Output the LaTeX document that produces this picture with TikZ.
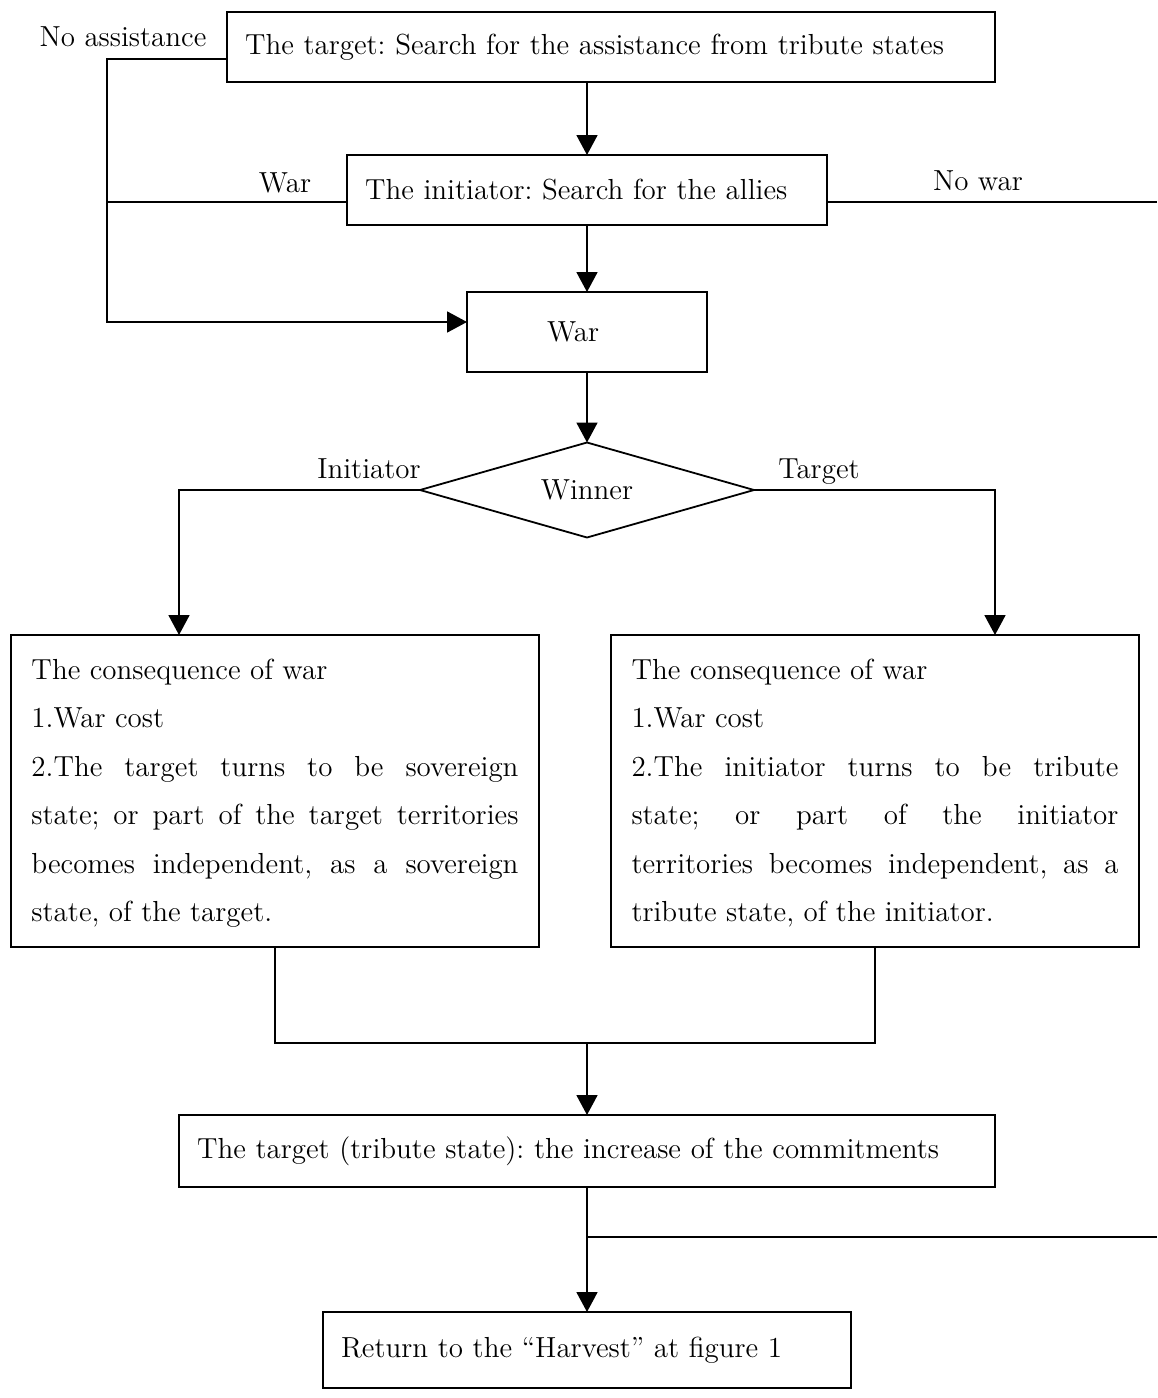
\documentclass[tikz,border=0pt]{standalone}
\usepackage{fontspec}
\usetikzlibrary{arrows.meta,positioning,calc,shapes.geometric}
\frenchspacing

\begin{document}
\begin{tikzpicture}[
    x=0.5pt, y=-0.5pt,
    box/.style={
        draw,
        line width=0.9pt,
        outer sep=0pt,
        align=left,
        inner xsep=9pt,
        inner ysep=0pt,
        font=\fontsize{14.5}{24.25}\selectfont
    },
    bigbox/.style={
        box,
        align=justify,
        inner xsep=10.25pt,
        text width=243.5pt,
        minimum height=156pt,
        anchor=north west
    },
    tag/.style={
        anchor=base,
        inner sep=0pt,
        font=\fontsize{14.5}{24.25}\selectfont
    },
    link/.style={line width=0.9pt},
    >={Triangle[length=10pt,width=10.5pt]}
]

\useasboundingbox (0,0) rectangle (1157,1398);

% main column
\node[box, anchor=north west, text width=366pt, minimum height=35pt] (assist) at (227,12)
    {The target: Search for the assistance from tribute states};
\node[box, anchor=north west, text width=222pt, minimum height=35pt] (allies) at (347,155)
    {The initiator: Search for the allies};
\node[box, anchor=north west, inner xsep=40pt, text width=40pt, minimum height=40pt] (war) at (467,292)
    {War};
\node[draw, line width=0.9pt, outer sep=0pt, diamond, aspect=3.5, minimum width=167pt, minimum height=47.5pt,
      inner sep=0pt, font=\fontsize{14.5}{24.25}\selectfont] (winner) at (587,490) {Winner};

% consequences
\node[bigbox] (conl) at (11,635) {\strut The consequence of war\par
    1.War cost\par
    2.The target turns to be sovereign\linebreak
    state; or part of the target territories\linebreak
    becomes independent, as a sovereign\linebreak
    state, of the target.\strut};
\node[bigbox] (conr) at (611,635) {\strut The consequence of war\par
    1.War cost\par
    2.The initiator turns to be tribute\linebreak
    state; or part of the initiator\linebreak
    territories becomes independent, as a\linebreak
    tribute state, of the initiator.\strut};

\node[box, anchor=north west, text width=390pt, minimum height=36pt] (commit) at (179,1115)
    {The target (tribute state): the increase of the commitments};
\node[box, anchor=north west, text width=246pt, minimum height=38pt] (back) at (323,1312)
    {Return to the “Harvest” at figure 1};

% branch labels
\node[tag] (lnoassist) at (123,46) {No assistance};
\node[tag] (lwar) at (285,192) {War};
\node[tag] (lnowar) at (978,190) {No war};
\node[tag] (linit) at (369,478) {Initiator};
\node[tag] (ltarget) at (819,478) {Target};

% helper points
\coordinate (rail) at (107,0);
\coordinate (edge) at (1157,0);
\coordinate (dropl) at (179,0);
\coordinate (dropr) at (995,0);
\coordinate (exita) at ($(assist.west)+(0,12)$);
\coordinate (exitw) at ($(allies.west)+(0,12)$);
\coordinate (exitn) at ($(allies.east)+(0,12)$);
\coordinate (entw) at ($(war.west)+(0,-10)$);
\coordinate (merge) at ($(commit.north)+(0,-72)$);
\coordinate (fork) at ($(back.north)+(0,-75)$);

\draw[->, link] (assist.south -| allies.north) -- (allies.north);
\draw[->, link] (allies.south) -- (war.north);
\draw[->, link] (war.south) -- (war.south |- winner.north);

\draw[->, link] (exita) -- (exita -| rail) -- (entw -| rail) -- (entw);
\draw[link] (exitw) -- (exitw -| rail);
\draw[link] (exitn) -- (exitn -| edge);

\draw[->, link] (winner.west) -| (dropl |- conl.north);
\draw[->, link] (winner.east) -| (dropr |- conr.north);

\draw[link] (conl.south) -- (conl.south |- merge) -- (conr.south |- merge) -- (conr.south);
\draw[->, link] (merge) -- (commit.north);
\draw[->, link] (commit.south) -- (back.north);
\draw[link] (fork) -- (fork -| edge);

\end{tikzpicture}
\end{document}
